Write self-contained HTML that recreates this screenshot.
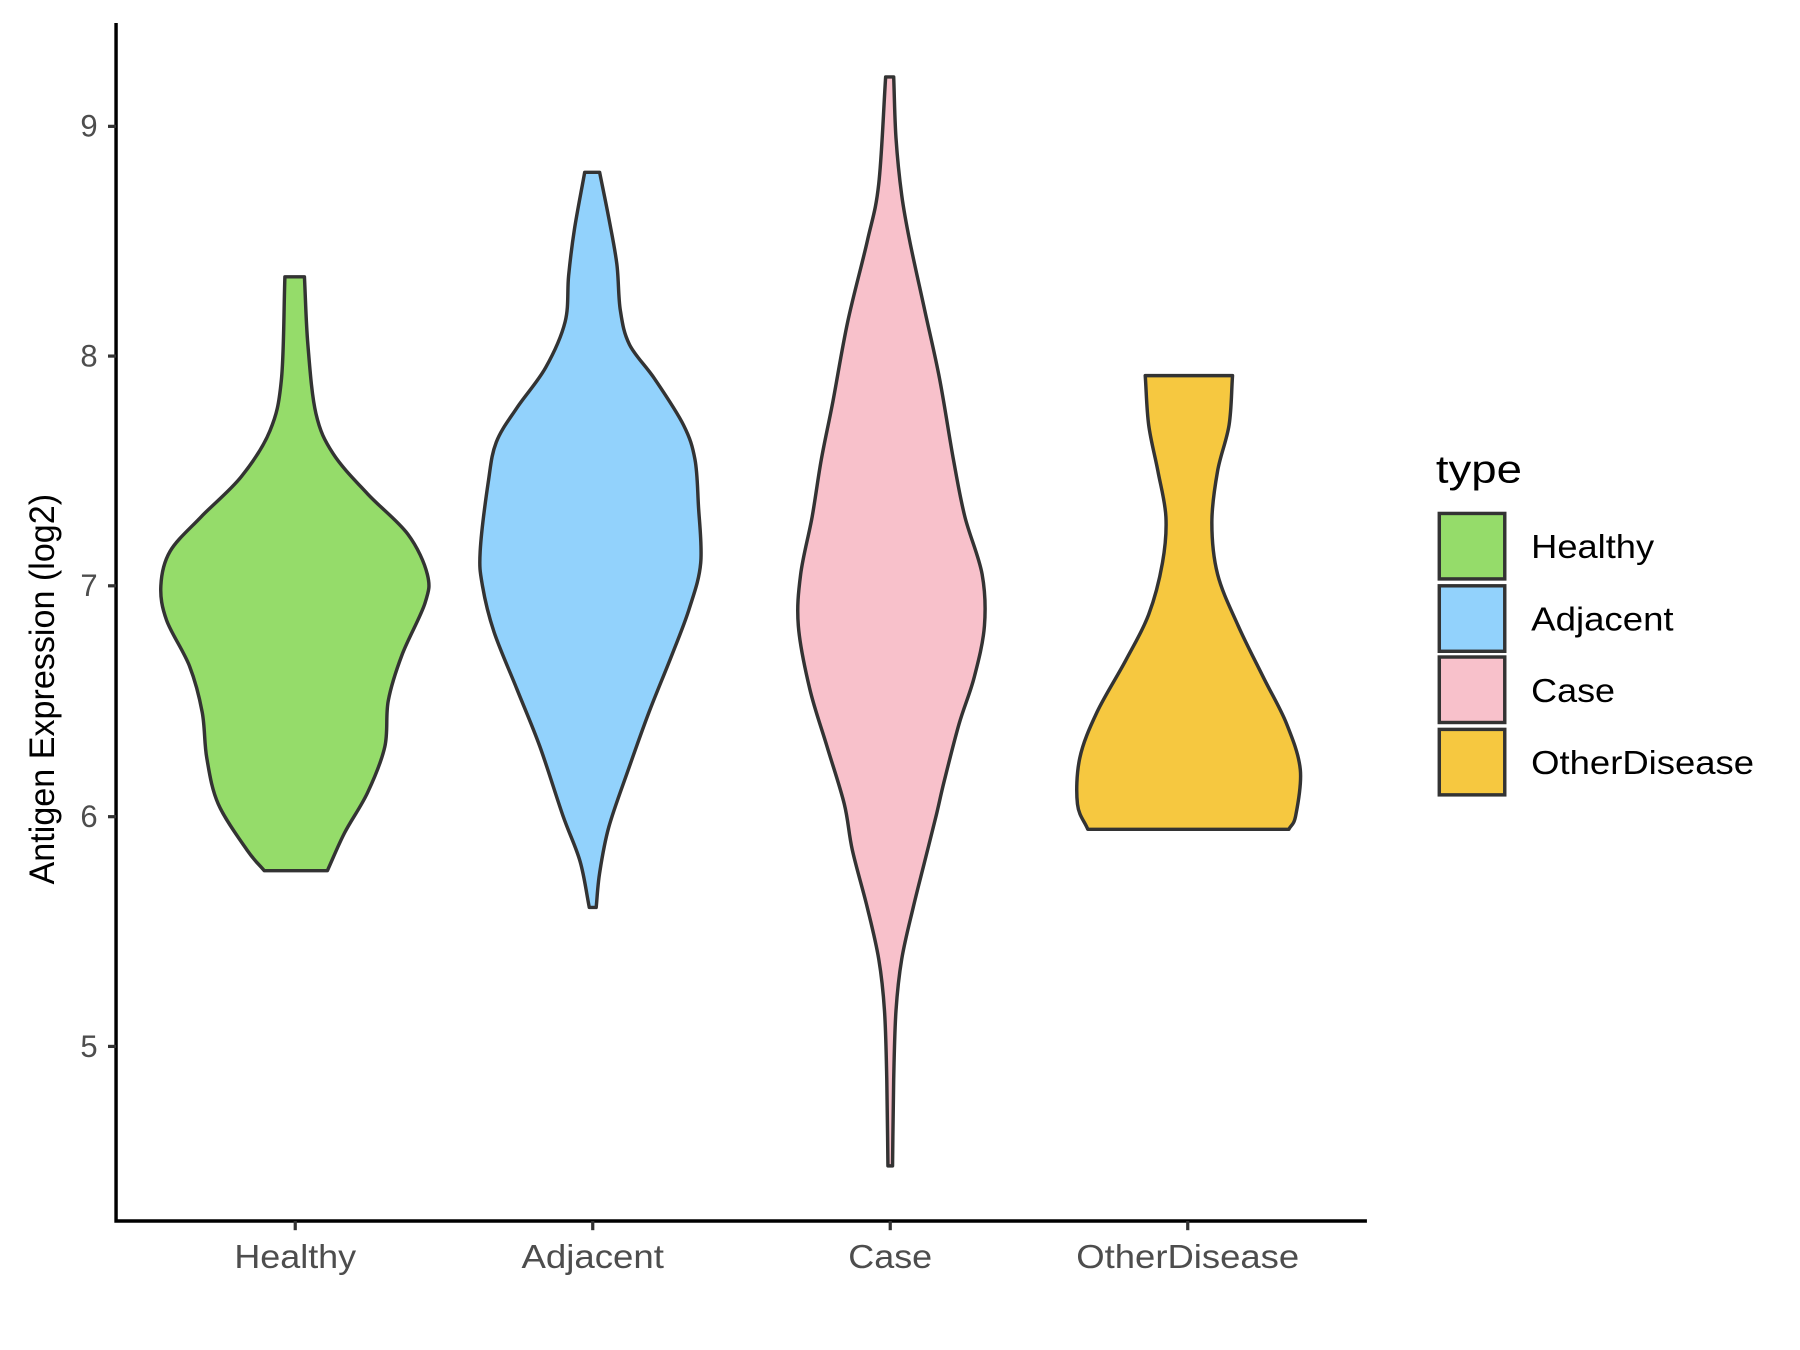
<!DOCTYPE html>
<html><head><meta charset="utf-8"><style>html,body{margin:0;padding:0;background:#fff}svg{display:block}</style></head>
<body>
<svg width="1800" height="1350" viewBox="0 0 1567 1175.3" xmlns="http://www.w3.org/2000/svg" font-family="Liberation Sans, Arial, sans-serif">
<rect width="1567" height="1176" fill="#fff"/>
<g stroke="#333" stroke-width="3" stroke-linejoin="round" id="v">
<polygon fill="#95DC6A" points="248,241 265,241 268,300 275,360 290,395 320,430 355,465 372,500 370,525 350,570 338,610 335,650 320,690 300,725 285,758 230,758 215,740 190,700 180,660 176,620 165,580 145,540 140,510 148,480 175,450 210,415 235,375 245,330"/>
<polygon fill="#92D2FC" points="509,150 522,150 530,190 537,230 540,270 548,300 570,330 595,370 605,400 608,440 610,490 600,530 585,570 565,620 547,670 530,720 522,760 519,790 513,790 505,750 490,710 470,650 450,600 430,550 420,510 418,480 425,420 432,385 450,355 475,320 492,280 495,240 500,200"/>
<polygon fill="#F8C1CB" points="771,67 778,67 780,120 785,170 792,210 805,270 818,330 830,400 840,450 855,500 857,545 848,590 835,630 822,680 815,710 805,750 795,790 785,835 780,880 778,940 777,1015 773,1015 772,940 770,880 765,835 755,790 742,740 735,700 720,650 705,600 695,545 697,500 707,450 715,400 725,350 738,280 755,210 765,160"/>
<polygon fill="#F6C840" points="997,327 1073,327 1070,370 1060,410 1055,455 1060,500 1078,545 1100,590 1120,630 1132,670 1128,710 1122,722 947,722 938,700 940,660 955,620 980,575 1000,535 1012,490 1015,450 1008,410 1000,370"/>
</g>
<g stroke="#000" stroke-width="3" fill="none">
<polyline points="101,20 101,1063 1190,1063"/>
</g>
<g stroke="#333" stroke-width="2.8">
<line x1="94" y1="110" x2="101" y2="110"/><line x1="94" y1="310" x2="101" y2="310"/><line x1="94" y1="510" x2="101" y2="510"/><line x1="94" y1="711" x2="101" y2="711"/><line x1="94" y1="911" x2="101" y2="911"/>
<line x1="257" y1="1063" x2="257" y2="1071"/><line x1="516" y1="1063" x2="516" y2="1071"/><line x1="775" y1="1063" x2="775" y2="1071"/><line x1="1034" y1="1063" x2="1034" y2="1071"/>
</g>
<g fill="#4d4d4d" font-size="27" text-anchor="end">
<text x="85" y="119">9</text><text x="85" y="319">8</text><text x="85" y="519">7</text><text x="85" y="720">6</text><text x="85" y="920">5</text>
</g>
<g fill="#4d4d4d" font-size="29" text-anchor="middle">
<text x="257" y="1104" textLength="106" lengthAdjust="spacingAndGlyphs">Healthy</text><text x="516" y="1104" textLength="124" lengthAdjust="spacingAndGlyphs">Adjacent</text><text x="775" y="1104" textLength="73" lengthAdjust="spacingAndGlyphs">Case</text><text x="1034" y="1104" textLength="194" lengthAdjust="spacingAndGlyphs">OtherDisease</text>
</g>
<text transform="translate(47,600) rotate(-90)" text-anchor="middle" font-size="31" fill="#000" textLength="340" lengthAdjust="spacingAndGlyphs">Antigen Expression (log2)</text>
<text x="1250" y="420" font-size="34" fill="#000" textLength="75" lengthAdjust="spacingAndGlyphs">type</text>
<g stroke="#333" stroke-width="3">
<rect x="1253" y="447" width="57" height="57" fill="#95DC6A"/>
<rect x="1253" y="510" width="57" height="57" fill="#92D2FC"/>
<rect x="1253" y="572" width="57" height="57" fill="#F8C1CB"/>
<rect x="1253" y="635" width="57" height="57" fill="#F6C840"/>
</g>
<g font-size="29" fill="#000">
<text x="1333" y="486" textLength="107" lengthAdjust="spacingAndGlyphs">Healthy</text><text x="1333" y="549" textLength="124" lengthAdjust="spacingAndGlyphs">Adjacent</text><text x="1333" y="611" textLength="73" lengthAdjust="spacingAndGlyphs">Case</text><text x="1333" y="674" textLength="194" lengthAdjust="spacingAndGlyphs">OtherDisease</text>
</g>
</svg>
<script>
document.querySelectorAll('#v polygon').forEach(function(p){
  var n=p.getAttribute('points').trim().split(/\s+/).map(function(s){return s.split(',').map(Number);});
  var L=n.length,d='M'+n[0].join(',');
  for(var i=0;i<L;i++){
    var p0=n[(i-1+L)%L],p1=n[i],p2=n[(i+1)%L],p3=n[(i+2)%L];
    var flat=(p1[1]===p2[1]);
    if(flat){d+=' L'+p2.join(',');continue;}
    var t=6;
    var c1=[p1[0]+(p2[0]-p0[0])/t,p1[1]+(p2[1]-p0[1])/t];
    var c2=[p2[0]-(p3[0]-p1[0])/t,p2[1]-(p3[1]-p1[1])/t];
    if(p0[1]===p1[1])c1=[p1[0]+(p2[0]-p1[0])/3,p1[1]+(p2[1]-p1[1])/3];
    if(p2[1]===p3[1])c2=[p2[0]-(p2[0]-p1[0])/3,p2[1]-(p2[1]-p1[1])/3];
    d+=' C'+c1.join(',')+' '+c2.join(',')+' '+p2.join(',');
  }
  d+='Z';
  var e=document.createElementNS('http://www.w3.org/2000/svg','path');
  e.setAttribute('d',d);e.setAttribute('fill',p.getAttribute('fill'));
  p.parentNode.replaceChild(e,p);
});
</script>
</body></html>
